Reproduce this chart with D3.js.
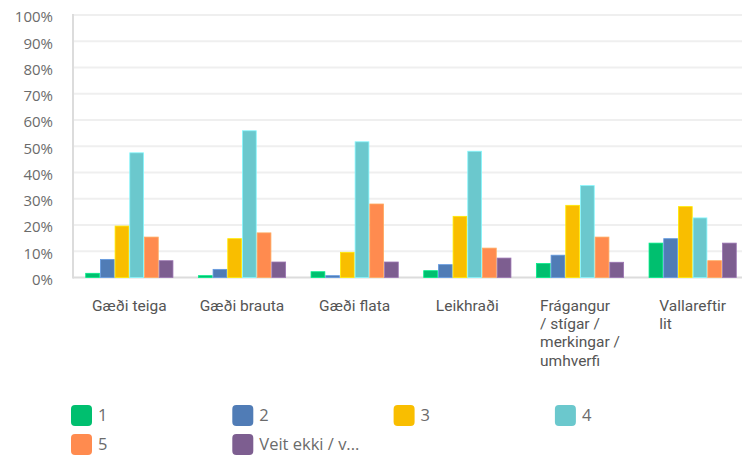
<!DOCTYPE html>
<html>
<head>
<meta charset="utf-8">
<script src="https://cdn.jsdelivr.net/npm/d3@7"></script>
<style>
  body { margin: 0; background: #fff; }
  svg { display: block; }
</style>
</head>
<body>
<div id="chart"></div>
<script>
// data
var categories = ["Gæði teiga", "Gæði brauta", "Gæði flata", "Leikhraði", "Frágangur / stígar / merkingar / umhverfi", "Vallareftir lit"];
var labelLines = [["Gæði teiga"], ["Gæði brauta"], ["Gæði flata"], ["Leikhraði"], ["Frágangur", "/ stígar /", "merkingar /", "umhverfi"], ["Vallareftir", "lit"]];
var seriesNames = ["1", "2", "3", "4", "5", "Veit ekki / v..."];
var s1 = [1.6, 0.7, 2.2, 2.6, 5.3, 13.1];
var s2 = [6.9, 3.1, 0.7, 4.9, 8.5, 14.8];
var s3 = [19.6, 14.8, 9.6, 23.3, 27.5, 27.0];
var s4 = [47.5, 55.9, 51.7, 48.1, 35.0, 22.7];
var s5 = [15.4, 17.0, 28.0, 11.2, 15.4, 6.4];
var s6 = [6.4, 5.9, 5.9, 7.4, 5.8, 13.1];
var yTicks = [0, 10, 20, 30, 40, 50, 60, 70, 80, 90, 100];
var colors = ["#00bf6f", "#507cb6", "#f9be00", "#6bc8cd", "#ff8b4f", "#7d5e90"];

var allSeries = [s1, s2, s3, s4, s5, s6];

var width = 742, height = 457;
var margin = { top: 15, left: 73, right: -7, bottom: 179.5 };

var svg = d3.select("#chart")
  .append("svg")
  .attr("width", width)
  .attr("height", height);

var y = d3.scaleLinear()
  .domain([0, 100])
  .range([height - margin.bottom, margin.top]);

var x0 = d3.scaleBand()
  .domain(categories)
  .range([margin.left, width - margin.right])
  .padding(0);

var x1 = d3.scaleBand()
  .domain(seriesNames)
  .range([-44.5, 44.5])
  .padding(0.06);

// gridlines
svg.append("g")
  .selectAll("line")
  .data(yTicks)
  .enter().append("line")
  .attr("x1", margin.left)
  .attr("x2", width)
  .attr("y1", function (d) { return y(d); })
  .attr("y2", function (d) { return y(d); })
  .attr("stroke", function (d) { return d == 0 ? "#dcdcdc" : "#efefef"; })
  .attr("stroke-width", 2);

// left axis line
svg.append("line")
  .attr("x1", margin.left).attr("x2", margin.left)
  .attr("y1", y(100) - 1).attr("y2", y(0) + 1)
  .attr("stroke", "#dcdcdc")
  .attr("stroke-width", 2);

// y tick labels
var yAxis = svg.append("g")
  .attr("transform", "translate(" + (margin.left - 20) + ",0)")
  .call(d3.axisLeft(y).tickValues(yTicks).tickSize(0).tickPadding(0)
    .tickFormat(function (d) { return d + "%"; }));
yAxis.select(".domain").remove();
yAxis.selectAll("text")
  .attr("dy", "0.45em")
  .style("font-family", "'Open Sans', sans-serif")
  .style("font-size", "15px")
  .style("fill", "#6b6b6b");

// bars
var groups = svg.append("g")
  .selectAll("g")
  .data(categories)
  .enter().append("g")
  .attr("transform", function (d) { return "translate(" + (x0(d) + x0.bandwidth() / 2) + ",0)"; });

groups.selectAll("rect")
  .data(function (d, i) {
    return seriesNames.map(function (s, j) { return { key: s, idx: j, value: allSeries[j][i] }; });
  })
  .enter().append("rect")
  .attr("x", function (d) { return x1(d.key); })
  .attr("y", function (d) { return y(d.value); })
  .attr("width", x1.bandwidth())
  .attr("height", function (d) { return y(0) - y(d.value); })
  .attr("fill", function (d) { return colors[d.idx]; })
  .attr("stroke", function (d) { return d3.color(colors[d.idx]).brighter(0.6); })
  .attr("stroke-width", 0.8);

// x labels
var xl = svg.append("g")
  .selectAll("text")
  .data(categories)
  .enter().append("text")
  .attr("y", 311)
  .style("font-family", "Roboto, sans-serif")
  .style("font-size", "15.5px")
  .style("fill", "#555");

xl.each(function (d, i) {
  var t = d3.select(this);
  labelLines[i].forEach(function (line, k) {
    t.append("tspan").attr("dy", k == 0 ? 0 : 18.2).text(line);
  });
  var maxW = 0;
  t.selectAll("tspan").each(function () { maxW = Math.max(maxW, this.getComputedTextLength()); });
  var left = x0(d) + x0.bandwidth() / 2 - maxW / 2;
  t.selectAll("tspan").attr("x", left);
});

// legend
var size = 21;
var legendsPerRow = 4;
var legend = svg.append("g")
  .selectAll("g")
  .data(seriesNames)
  .enter().append("g")
  .attr("transform", function (d, i) {
    var col = i % legendsPerRow, row = Math.floor(i / legendsPerRow);
    return "translate(" + (71 + col * 161.3) + "," + (405 + row * 29) + ")";
  });

legend.append("rect")
  .attr("width", size)
  .attr("height", size)
  .attr("rx", 4)
  .attr("fill", function (d, i) { return colors[i]; });

legend.append("text")
  .attr("x", size + 6)
  .attr("y", size / 2)
  .attr("dy", "0.36em")
  .style("font-family", "'Open Sans', sans-serif")
  .style("font-size", "16.5px")
  .style("fill", "#6b6b6b")
  .text(function (d) { return d; });
</script>
</body>
</html>
